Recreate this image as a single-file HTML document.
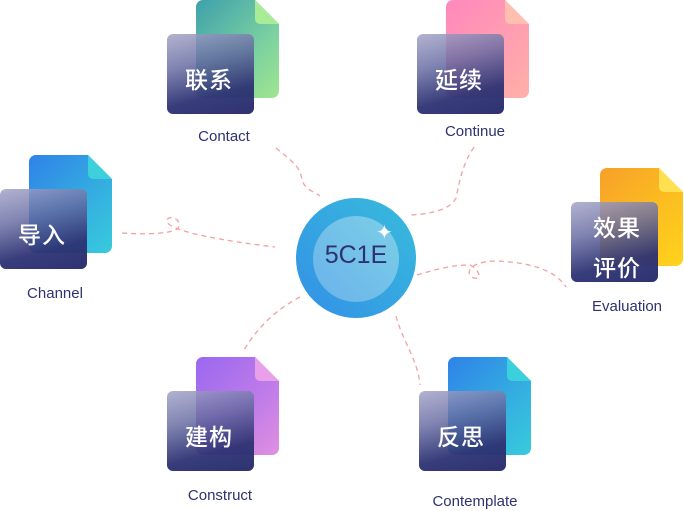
<!DOCTYPE html>
<html><head><meta charset="utf-8"><style>
body{margin:0;width:684px;height:511px;background:#fff;position:relative;overflow:hidden;font-family:"Liberation Sans","Noto Sans CJK SC",sans-serif}
.back{position:absolute;width:83px;height:98px;border-radius:7px;clip-path:polygon(0 0,59px 0,83px 24px,83px 98px,0 98px)}
.fold{position:absolute;width:24px;height:24px;clip-path:polygon(0 0,0 100%,100% 100%);border-radius:0 0 0 5px}
.front{position:absolute;width:87px;height:80px;border-radius:6px;background:linear-gradient(165deg,rgba(165,165,200,.85) 0%,rgba(100,105,160,.82) 35%,rgba(45,50,115,.95) 72%,rgba(42,46,110,.98) 100%);color:#fff;font-size:23px}
.front span{position:absolute;left:18px;top:27px;font-family:"Noto Sans CJK SC",sans-serif;font-weight:500;letter-spacing:1px}
.lbl{position:absolute;color:#2e3270;font-size:15px;transform:translateX(-50%);white-space:nowrap}
</style></head><body>
<svg width="684" height="511" style="position:absolute;left:0;top:0" fill="none" stroke="#f4a0a0" stroke-width="1.3" stroke-dasharray="5 4">
<path d="M122 233 C150 235 175 233 178 228 C183 220 170 214 167 220 C164 228 200 238 275 247"/>
<path d="M276 148 C290 160 300 165 302 180 C305 190 315 192 320 196"/>
<path d="M474 147 C462 165 460 180 456 198 C450 210 430 214 411 215"/>
<path d="M417 275 C440 268 455 265 470 265 C480 270 482 280 474 278 C466 276 465 262 495 261 C530 262 555 270 566 287"/>
<path d="M300 297 C275 310 255 330 243 352"/>
<path d="M396 316 C402 340 418 360 420 385"/>
</svg>

<div style="position:absolute;left:296px;top:198px;width:120px;height:120px;border-radius:50%;background:linear-gradient(225deg,#38bcdc,#3390e6)"></div>
<div style="position:absolute;left:313px;top:216px;width:86px;height:86px;border-radius:50%;background:linear-gradient(225deg,#7ccfe8,#6ab2ea)"></div>
<div style="position:absolute;left:296px;top:241px;width:120px;text-align:center;font-size:25px;color:#2e3270">5C1E</div>
<div style="position:absolute;left:376px;top:220px;color:#fff;font-size:20px">✦</div>

<!-- Contact -->
<div class="back" style="left:196px;top:0;background:linear-gradient(135deg,#3fa0ac,#7ad0a0 60%,#a0e690)"></div>
<div class="fold" style="left:255px;top:0;background:#a8ec98"></div>
<div class="front" style="left:167px;top:34px"><span>联系</span></div>
<div class="lbl" style="left:224px;top:128px">Contact</div>

<!-- Continue -->
<div class="back" style="left:446px;top:0;background:linear-gradient(135deg,#ff88bc,#ffa0b0 60%,#ffb0a8)"></div>
<div class="fold" style="left:505px;top:0;background:#ffbfb0"></div>
<div class="front" style="left:417px;top:34px"><span>延续</span></div>
<div class="lbl" style="left:475px;top:123px">Continue</div>

<!-- Channel -->
<div class="back" style="left:29px;top:155px;background:linear-gradient(135deg,#2f82e8,#34b0e0 60%,#38cbdc)"></div>
<div class="fold" style="left:88px;top:155px;background:#3ccfdc"></div>
<div class="front" style="left:0;top:189px"><span>导入</span></div>
<div class="lbl" style="left:55px;top:285px">Channel</div>

<!-- Evaluation -->
<div class="back" style="left:600px;top:168px;background:linear-gradient(135deg,#f7a028,#fcc020 60%,#ffd41c)"></div>
<div class="fold" style="left:659px;top:168px;background:#ffe050"></div>
<div class="front" style="left:571px;top:202px"><span style="top:4px;left:22px;line-height:40px">效果<br>评价</span></div>
<div class="lbl" style="left:627px;top:298px">Evaluation</div>

<!-- Construct -->
<div class="back" style="left:196px;top:357px;background:linear-gradient(135deg,#9a68f0,#c07ce8 60%,#e090e0)"></div>
<div class="fold" style="left:255px;top:357px;background:#e8a0e8"></div>
<div class="front" style="left:167px;top:391px"><span>建构</span></div>
<div class="lbl" style="left:220px;top:487px">Construct</div>

<!-- Contemplate -->
<div class="back" style="left:448px;top:357px;background:linear-gradient(135deg,#2f82e8,#34b0e0 60%,#38cbdc)"></div>
<div class="fold" style="left:507px;top:357px;background:#3ccfdc"></div>
<div class="front" style="left:419px;top:391px"><span>反思</span></div>
<div class="lbl" style="left:475px;top:493px">Contemplate</div>
</body></html>
